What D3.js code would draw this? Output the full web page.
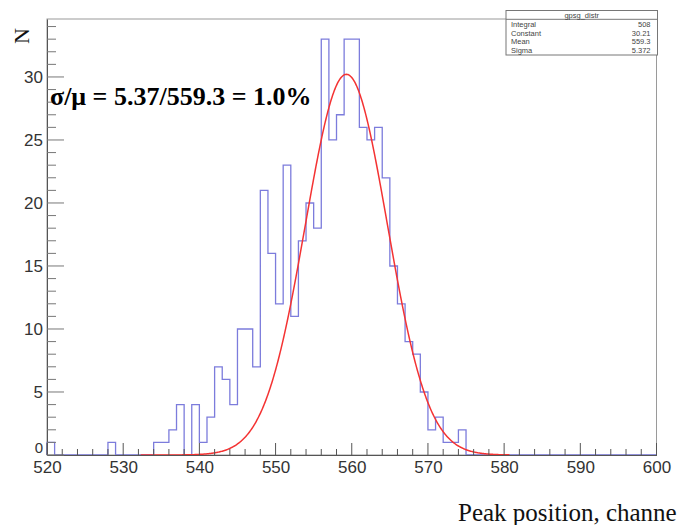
<!DOCTYPE html>
<html>
<head>
<meta charset="utf-8">
<script src="https://cdn.jsdelivr.net/npm/d3@7"></script>
<style>
  html, body { margin: 0; padding: 0; background: #fff; }
  svg { display: block; }
</style>
</head>
<body>
<svg id="chart" width="677" height="525"></svg>
<script>
// Histogram of fitted peak positions, 1-channel bins from 520 to 600
const binStart = 520;
const binWidth = 1;
const counts = [
  1, 0, 0, 0, 0, 0, 0, 0, 1, 0,      // 520-529
  0, 0, 0, 0, 1, 1, 2, 4, 0, 4,      // 530-539
  1, 3, 7, 6, 4, 10, 10, 7, 21, 16,  // 540-549
  12, 23, 11, 17, 20, 18, 33, 25, 27, 33, // 550-559
  33, 26, 25, 26, 22, 15, 12, 9, 8, 5,    // 560-569
  2, 3, 1, 1, 2, 0, 0, 0, 0, 0,      // 570-579
  0, 0, 0, 0, 0, 0, 0, 0, 0, 0,      // 580-589
  0, 0, 0, 0, 0, 0, 0, 0, 0, 0       // 590-599
];

// Gaussian fit result and its drawing range
const statLabels = ["Integral", "Constant", "Mean", "Sigma"];
const statValues = ["508", "30.21", "559.3", "5.372"];
const fitConstant = 30.21;
const fitMean = 559.3;
const fitSigma = 5.372;
const fitRange = [532.3, 580.7];

const xMajorTicks = [520, 530, 540, 550, 560, 570, 580, 590, 600];
const yMajorTicks = [0, 5, 10, 15, 20, 25, 30];

const svg = d3.select("#chart");
const frame = { left: 47, right: 656.5, top: 19, bottom: 455 };

const x = d3.scaleLinear().domain([520, 600]).range([frame.left, frame.right]);
const y = d3.scaleLinear().domain([0, 34.6]).range([frame.bottom, frame.top]);

// Frame box
svg.append("rect")
  .attr("x", frame.left).attr("y", frame.top)
  .attr("width", frame.right - frame.left).attr("height", frame.bottom - frame.top)
  .attr("fill", "none").attr("stroke", "#9a9a9a").attr("stroke-width", 1);

// Histogram outline (step path)
const pts = [[binStart, 0]];
counts.forEach((c, i) => {
  const lo = binStart + i * binWidth;
  pts.push([lo, c], [lo + binWidth, c]);
});
pts.push([binStart + counts.length * binWidth, 0]);

svg.append("path")
  .attr("d", d3.line().x(d => x(d[0])).y(d => y(d[1]))(pts))
  .attr("fill", "none")
  .attr("stroke", "#7c7cdc")
  .attr("stroke-width", 1.3)
  .attr("stroke-linejoin", "miter");

// Gaussian fit curve
const gauss = v => fitConstant * Math.exp(-0.5 * Math.pow((v - fitMean) / fitSigma, 2));
const curvePts = d3.range(fitRange[0], fitRange[1] + 0.001, 0.1).map(v => [v, gauss(v)]);
svg.append("path")
  .attr("d", d3.line().x(d => x(d[0])).y(d => y(d[1]))(curvePts))
  .attr("fill", "none")
  .attr("stroke", "#f43333")
  .attr("stroke-width", 1.5);

// X axis: major ticks every 10, minor every 2
const xAxis = d3.axisBottom(x).tickValues(xMajorTicks).tickSize(0).tickPadding(0).tickFormat(d3.format("d"));
const gx = svg.append("g").attr("transform", `translate(0,${frame.bottom})`).call(xAxis);
gx.select(".domain").attr("stroke", "#555");
gx.selectAll("text")
  .attr("dy", null).attr("y", 18)
  .attr("font-family", "Liberation Sans, Arial, sans-serif")
  .attr("font-size", 17).attr("fill", "#333");
svg.append("g").selectAll("line")
  .data(d3.range(520, 601, 2))
  .join("line")
  .attr("x1", d => x(d)).attr("x2", d => x(d))
  .attr("y1", frame.bottom)
  .attr("y2", d => frame.bottom - (d % 10 === 0 ? 12 : 6))
  .attr("stroke", "#555").attr("stroke-width", 1);

// Y axis: major ticks every 5, minor every 1
const yAxis = d3.axisLeft(y).tickValues(yMajorTicks).tickSize(0).tickPadding(4).tickFormat(d3.format("d"));
const gy = svg.append("g").attr("transform", `translate(${frame.left},0)`).call(yAxis);
gy.select(".domain").attr("stroke", "#555");
gy.selectAll("text")
  .attr("font-family", "Liberation Sans, Arial, sans-serif")
  .attr("font-size", 17).attr("fill", "#333");
// the zero label sits just above the x labels
gy.selectAll(".tick").filter(d => d === 0).select("text")
  .attr("y", -7).attr("font-size", 15);
svg.append("g").selectAll("line")
  .data(d3.range(0, 35, 1))
  .join("line")
  .attr("x1", frame.left)
  .attr("x2", d => frame.left + (d % 5 === 0 ? 17 : 9))
  .attr("y1", d => y(d)).attr("y2", d => y(d))
  .attr("stroke", "#777").attr("stroke-width", 1);

// Axis titles
svg.append("text")
  .attr("transform", "translate(29,36) rotate(-90)")
  .attr("text-anchor", "middle")
  .attr("font-family", "Liberation Serif, Times New Roman, serif")
  .attr("font-size", 22).attr("fill", "#111")
  .text("N");

svg.append("text")
  .attr("x", 458).attr("y", 521)
  .attr("font-family", "Liberation Serif, Times New Roman, serif")
  .attr("font-size", 25).attr("fill", "#111")
  .text("Peak position, channe");

// Resolution annotation
svg.append("text")
  .attr("x", 50).attr("y", 105)
  .attr("font-family", "Liberation Serif, Times New Roman, serif")
  .attr("font-weight", "bold")
  .attr("font-size", 26).attr("fill", "#000")
  .text(`σ/μ = ${fitSigma.toFixed(2)}/${fitMean.toFixed(1)} = ${(100 * fitSigma / fitMean).toFixed(1)}%`);

// Statistics box
const box = { x: 506, y: 10.5, w: 151.5, h: 44.5 };
const sb = svg.append("g");
sb.append("rect")
  .attr("x", box.x).attr("y", box.y).attr("width", box.w).attr("height", box.h)
  .attr("fill", "#fff").attr("stroke", "#777").attr("stroke-width", 1);
sb.append("line")
  .attr("x1", box.x).attr("x2", box.x + box.w)
  .attr("y1", box.y + 8.8).attr("y2", box.y + 8.8)
  .attr("stroke", "#777");
sb.append("text")
  .attr("x", box.x + box.w / 2).attr("y", box.y + 7.2)
  .attr("text-anchor", "middle")
  .attr("font-family", "Liberation Sans, Arial, sans-serif")
  .attr("font-size", 7.5).attr("fill", "#444")
  .text("gpsg_distr");
statLabels.forEach((lab, i) => {
  const ty = box.y + 16.3 + i * 8.7;
  sb.append("text")
    .attr("x", box.x + 5).attr("y", ty)
    .attr("font-family", "Liberation Sans, Arial, sans-serif")
    .attr("font-size", 7.5).attr("fill", "#444")
    .text(lab);
  sb.append("text")
    .attr("x", box.x + box.w - 7).attr("y", ty)
    .attr("text-anchor", "end")
    .attr("font-family", "Liberation Sans, Arial, sans-serif")
    .attr("font-size", 7.5).attr("fill", "#444")
    .text(statValues[i]);
});
</script>
</body>
</html>
